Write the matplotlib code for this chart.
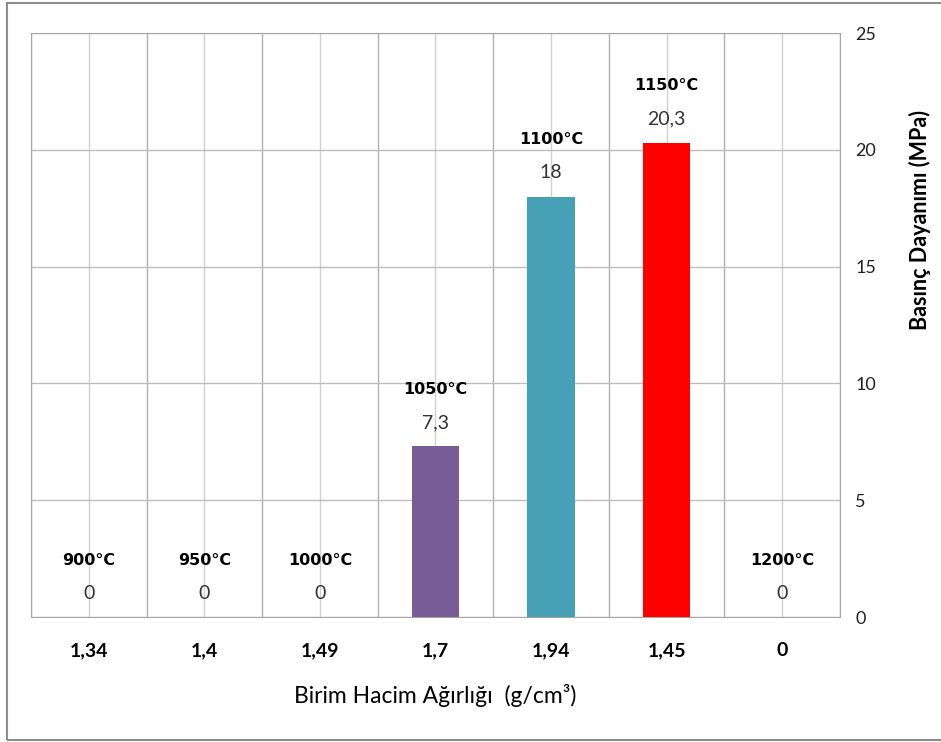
import matplotlib.pyplot as plt
from matplotlib.patches import Rectangle
import numpy as np

# data
densities = ["1,34", "1,4", "1,49", "1,7", "1,94", "1,45", "0"]
temps = ["900°C", "950°C", "1000°C", "1050°C", "1100°C", "1150°C", "1200°C"]
strength = [0, 0, 0, 7.3, 18, 20.3, 0]
value_labels = ["0", "0", "0", "7,3", "18", "20,3", "0"]
bar_colors = ["#4F81BD", "#C0504D", "#9BBB59", "#775C96", "#46A0B6", "#FF0000", "#F79646"]

plt.rcParams['font.family'] = ['Lato', 'DejaVu Sans']

fig = plt.figure(figsize=(9.41, 7.42), dpi=100)
fig.patches.append(Rectangle((7 / 941, 2 / 742), 1.2, 737 / 742, transform=fig.transFigure,
                             fill=False, edgecolor="#8C8C8C", linewidth=1.5))

ax = fig.add_axes([31 / 941, 125 / 742, 809 / 941, 584 / 742])
x = np.arange(len(densities))
ax.bar(x, strength, width=0.41, color=bar_colors, zorder=3)

ax.set_xlim(-0.5, len(densities) - 0.5)
ax.set_ylim(0, 25)
ax.set_yticks([0, 5, 10, 15, 20, 25])
ax.set_xticks(x)
ax.set_xticks(np.arange(-0.5, len(densities)), minor=True)
ax.set_xticklabels(densities, fontweight="bold", fontsize=14)
ax.yaxis.tick_right()
ax.yaxis.set_label_position("right")
ax.tick_params(axis="y", length=0, pad=11, labelsize=13, labelcolor="#222222")
ax.tick_params(axis="x", which="both", length=0, pad=18)

ax.grid(True, axis="y", color="#BDBDBD", linewidth=1, zorder=0)
ax.grid(True, axis="x", which="major", color="#D0D0D0", linewidth=1, zorder=0)
ax.grid(True, axis="x", which="minor", color="#B0B0B0", linewidth=1, zorder=0)
for s in ["top", "left", "right", "bottom"]:
    ax.spines[s].set_color("#A6A6A6")

ax.set_xlabel("Birim Hacim Ağırlığı  (g/cm³)", fontsize=16.5, labelpad=18)
ax.set_ylabel("Basınç Dayanımı (MPa)", fontsize=15.5, fontweight="bold")
ax.yaxis.set_label_coords(1.085, 0.68)

for i in range(len(x)):
    ax.annotate(value_labels[i], (x[i], strength[i]), xytext=(0, 17), textcoords="offset points",
                ha="center", va="center", fontsize=14, color="#333333", zorder=4)
    ax.annotate(temps[i], (x[i], strength[i]), xytext=(0, 41), textcoords="offset points",
                ha="center", va="center", fontsize=11.5, fontweight="bold",
                family=["Liberation Sans Narrow", "DejaVu Sans"], zorder=4)

fig.savefig("out.png", dpi=100)
